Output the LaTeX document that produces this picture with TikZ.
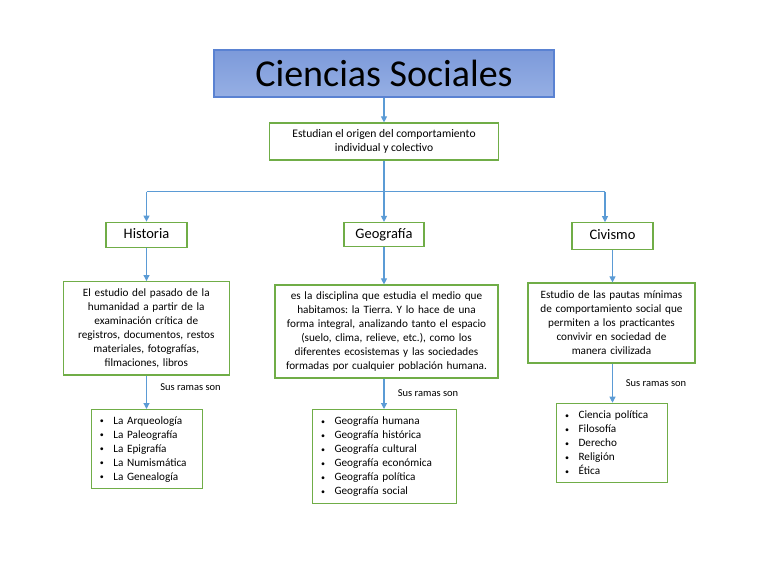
\documentclass[tikz,border=0pt]{standalone}
\usepackage{fontspec}
\setmainfont{Carlito}
\usetikzlibrary{arrows.meta}
\definecolor{gbord}{RGB}{112,173,71}
\definecolor{abl}{RGB}{91,155,213}
\definecolor{tbord}{RGB}{90,130,210}
\definecolor{ttop}{RGB}{124,154,218}
\definecolor{tbot}{RGB}{150,175,228}
\tikzset{
  gbox/.style={draw=gbord, line width=1.2pt, fill=white, inner sep=0pt, align=center},
  arr/.style={draw=abl, line width=1.1pt, -{Triangle[length=6pt,width=6pt]}},
  ln/.style={draw=abl, line width=1.1pt},
  body/.style={font=\fontsize{11.2}{14}\selectfont\frenchspacing},
  head/.style={font=\fontsize{14.5}{16}\selectfont, text height=10.5pt, text depth=3pt},
  lbl/.style={font=\fontsize{10.5}{12}\selectfont, inner sep=0pt},
  lst/.style={gbox, align=left, anchor=north west, inner xsep=8.6pt, inner ysep=0pt, font=\fontsize{11.2}{14}\selectfont},
}
\newcommand{\bul}{\makebox[13.4pt][l]{\raisebox{0.3pt}{\fontsize{8}{8}\selectfont •}}}
\begin{document}
\begin{tikzpicture}[x=1pt,y=-1pt]
\useasboundingbox (0,0) rectangle (768,576);
% title
\node[draw=tbord, line width=1.2pt, top color=ttop, bottom color=tbot, minimum width=340pt, minimum height=47pt, inner sep=0pt, font=\fontsize{38}{40}\selectfont] (title) at (384,73.5) {Ciencias Sociales};
\node[gbox, minimum width=229pt, minimum height=37pt, font=\fontsize{11.6}{14}\selectfont] (orig) at (384,141.5) {Estudian el origen del comportamiento\\individual y colectivo};
% level 2
\node[gbox, head, minimum width=81pt, minimum height=25.5pt] (hist) at (146.5,235) {Historia};
\node[gbox, head, minimum width=80pt, minimum height=24pt] (geo) at (384,234.5) {Geografía};
\node[gbox, head, minimum width=81pt, minimum height=26.5pt] (civ) at (612.5,236) {Civismo};
% descriptions
\node[gbox, body, minimum width=166pt, minimum height=93.3pt, text width=160pt] (hdesc) at (146.3,328.3) {El estudio del pasado de la\\humanidad a partir de la\\examinación crítica de\\registros, documentos, restos\\materiales, fotografías,\\filmaciones, libros};
\node[gbox, body, minimum width=223pt, minimum height=93pt, text width=217pt] (gdesc) at (386.5,331.5) {es la disciplina que estudia el medio que\\habitamos: la Tierra. Y lo hace de una\\forma integral, analizando tanto el espacio\\(suelo, clima, relieve, etc.), como los\\diferentes ecosistemas y las sociedades\\formadas por cualquier población humana.};
\node[gbox, body, minimum width=167pt, minimum height=80pt, text width=161pt] (cdesc) at (611.5,323) {Estudio de las pautas mínimas\\de comportamiento social que\\permiten a los practicantes\\convivir en sociedad de\\manera civilizada};
% lists
\node[lst, text width=93.8pt, minimum height=79pt] (hlist) at (90.7,409) {\bul La Arqueología\\\bul La Paleografía\\\bul La Epigrafía\\\bul La Numismática\\\bul La Genealogía};
\node[lst, text width=126.8pt, minimum height=94pt] (glist) at (312,409) {\bul Geografía humana\\\bul Geografía histórica\\\bul Geografía cultural\\\bul Geografía económica\\\bul Geografía política\\\bul Geografía social};
\node[lst, text width=93.8pt, minimum height=79pt] (clist) at (556,402.7) {\bul Ciencia política\\\bul Filosofía\\\bul Derecho\\\bul Religión\\\bul Ética};
% labels
\node[lbl] (hl) at (190.5,386.7) {Sus ramas son};
\node[lbl] (gl) at (428,393) {Sus ramas son};
\node[lbl] (cl) at (656,383) {Sus ramas son};
% connectors
\coordinate (hub) at (384,191.5);
\coordinate (hubl) at (146.5,191.5);
\coordinate (hubr) at (605,191.5);
\draw[arr] (title.south) -- (orig.north);
\draw[ln] (orig.south) -- (hub);
\draw[ln] (hubl) -- (hubr);
\draw[arr] (hubl) -- (hist.north);
\draw[arr] (hub) -- (geo.north);
\draw[arr] (hubr) -- (hubr |- civ.north);
\draw[arr] (hist.south) -- (hdesc.north -| hist.south);
\draw[arr] (geo.south) -- (gdesc.north -| geo.south);
\draw[arr] (civ.south) -- (cdesc.north -| civ.south);
\draw[arr] (hdesc.south -| hist.south) -- (hlist.north -| hist.south);
\draw[arr] (gdesc.south -| geo.south) -- (glist.north -| geo.south);
\draw[arr] (cdesc.south -| civ.south) -- (clist.north -| civ.south);
\end{tikzpicture}
\end{document}
